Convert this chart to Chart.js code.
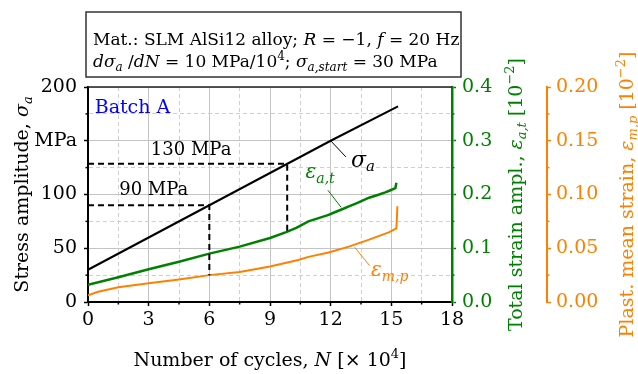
<!DOCTYPE html>
<html>
<head>
<meta charset="utf-8">
<script src="https://cdn.jsdelivr.net/npm/chart.js@4.4.0/dist/chart.umd.min.js"></script>
<style>
  html, body { margin: 0; padding: 0; background: #fff; }
  #wrap { width: 638px; height: 374px; position: relative; }
</style>
</head>
<body>
<div id="wrap"><canvas id="c"></canvas></div>
<script>
// stress amplitude sigma_a [MPa] vs cycles N [x10^4]
var N_SIGMA = [0, 3, 6, 9, 12, 15.33];
var SIGMA   = [30, 60, 90, 120, 150, 182];
// total strain amplitude eps_a,t [10^-2]
var N_EAT = [0, 1.5, 3, 4.5, 6, 7.5, 9, 9.8, 10.3, 10.9, 11.4, 11.9, 12.2, 12.6, 12.9, 13.3, 13.6, 13.9, 14.4, 14.7, 14.9, 15.2, 15.25];
var EAT   = [0.032, 0.046, 0.061, 0.075, 0.090, 0.103, 0.119, 0.130, 0.138, 0.150, 0.156, 0.162, 0.167, 0.173, 0.178, 0.184, 0.189, 0.194, 0.200, 0.204, 0.207, 0.212, 0.222];
// plastic mean strain eps_m,p [10^-2]
var N_EMP = [0, 0.5, 1.5, 3, 4.5, 6, 7.5, 9, 10.4, 10.9, 11.9, 12.9, 13.9, 14.9, 15.25, 15.3];
var EMP   = [0.0063, 0.0095, 0.0137, 0.0174, 0.021, 0.025, 0.028, 0.033, 0.039, 0.042, 0.046, 0.0515, 0.058, 0.065, 0.0685, 0.089];
// guide lines at 130 / 90 MPa
var GUIDE_130 = [[0, 128.5], [9.85, 128.5], [9.85, 65]];
var GUIDE_90  = [[0, 90], [6, 90], [6, 25]];
// leader lines for the curve labels (N, MPa)
var LEAD_SIGMA = [[12, 150], [12.75, 135]];
var LEAD_EAT   = [[11.86, 104], [12.52, 88]];
var LEAD_EMP   = [[13.18, 51], [13.92, 34]];

var Y_MAJOR = [0, 50, 100, 150, 200];
var Y_LABELS = ['0', '50', '100', 'MPa', '200'];

var GREEN = '#008000', ORANGE = '#ff8000', GRID = '#c4c4c4';
var FONT = '"DejaVu Serif", serif';

function pts(xs, ys) { return xs.map(function (x, i) { return { x: x, y: ys[i] }; }); }
function pairs(a) { return a.map(function (p) { return { x: p[0], y: p[1] }; }); }
function isMult(v, step) { var r = v / step; return Math.abs(r - Math.round(r)) < 1e-6; }
var MAJOR = { x: 3, y: 50, yG: 0.1, yO: 0.05 };

// rich text: segments {t, i (italic), sub, sup}
function segFont(s, size) { var sz = (s.sub || s.sup) ? Math.round(size * 0.7) : size; return (s.i ? 'italic ' : '') + sz + 'px ' + FONT; }
function richW(ctx, segs, size) { var w = 0; segs.forEach(function (s) { ctx.font = segFont(s, size); w += ctx.measureText(s.t).width; }); return w; }
function rich(ctx, segs, x, y, size, color, align) {
  var cx = align === 'center' ? x - richW(ctx, segs, size) / 2 : x;
  ctx.fillStyle = color; ctx.textBaseline = 'alphabetic'; ctx.textAlign = 'left';
  segs.forEach(function (s) {
    ctx.font = segFont(s, size);
    var dy = s.sub ? size * 0.22 : (s.sup ? -size * 0.4 : 0);
    ctx.fillText(s.t, cx, y + dy);
    cx += ctx.measureText(s.t).width;
  });
}
function richV(ctx, segs, x, y, size, color) {
  ctx.save(); ctx.translate(x, y); ctx.rotate(-Math.PI / 2);
  rich(ctx, segs, 0, 0, size, color, 'center'); ctx.restore();
}

var TITLE_Y  = [{ t: 'Stress amplitude, ' }, { t: 'σ', i: 1 }, { t: 'a', i: 1, sub: 1 }];
var TITLE_X  = [{ t: 'Number of cycles, ' }, { t: 'N', i: 1 }, { t: ' [× 10' }, { t: '4', sup: 1 }, { t: ']' }];
var TITLE_YG = [{ t: 'Total strain ampl., ' }, { t: 'ε', i: 1 }, { t: 'a,t', i: 1, sub: 1 }, { t: ' [10' }, { t: '−2', sup: 1 }, { t: ']' }];
var TITLE_YO = [{ t: 'Plast. mean strain, ' }, { t: 'ε', i: 1 }, { t: 'm,p', i: 1, sub: 1 }, { t: ' [10' }, { t: '−2', sup: 1 }, { t: ']' }];
var INFO_1 = [{ t: 'Mat.: SLM AlSi12 alloy; ' }, { t: 'R', i: 1 }, { t: ' = −1, ' }, { t: 'f', i: 1 }, { t: ' = 20 Hz' }];
var INFO_2 = [{ t: 'dσ', i: 1 }, { t: 'a', i: 1, sub: 1 }, { t: ' /' }, { t: 'dN', i: 1 }, { t: ' = 10 MPa/10' }, { t: '4', sup: 1 }, { t: '; ' }, { t: 'σ', i: 1 }, { t: 'a,start', i: 1, sub: 1 }, { t: ' = 30 MPa' }];

var extras = {
  id: 'extras',
  afterDraw: function (chart) {
    var ctx = chart.ctx, a = chart.chartArea, sx = chart.scales.x, sy = chart.scales.y;
    var yG = chart.scales.yG, yO = chart.scales.yO;
    ctx.save();
    // top frame line
    ctx.strokeStyle = '#222'; ctx.lineWidth = 1.5;
    ctx.beginPath(); ctx.moveTo(a.left, a.top); ctx.lineTo(a.right, a.top); ctx.stroke();
    // minor ticks
    [['x', '#000'], ['y', '#000'], ['yG', GREEN], ['yO', ORANGE]].forEach(function (p) {
      var s = chart.scales[p[0]];
      ctx.strokeStyle = p[1]; ctx.lineWidth = 1.5;
      s.ticks.forEach(function (t) {
        if (isMult(t.value, MAJOR[p[0]])) return;
        var px = s.getPixelForValue(t.value);
        ctx.beginPath();
        if (p[0] === 'x') { ctx.moveTo(px, s.top); ctx.lineTo(px, s.top + 2.5); }
        else if (p[0] === 'y') { ctx.moveTo(s.right, px); ctx.lineTo(s.right - 2.5, px); }
        else { ctx.moveTo(s.left, px); ctx.lineTo(s.left + 2.5, px); }
        ctx.stroke();
      });
    });
    // axis titles
    var midY = (a.top + a.bottom) / 2;
    richV(ctx, TITLE_Y, sy.left + 28, midY, 19, '#000');
    rich(ctx, TITLE_X, (a.left + a.right) / 2, sx.bottom - 8, 19, '#000', 'center');
    richV(ctx, TITLE_YG, yG.left + 70, midY, 19, GREEN);
    richV(ctx, TITLE_YO, yO.left + 86, midY, 19, ORANGE);
    // info box
    ctx.strokeStyle = '#333'; ctx.lineWidth = 1.5;
    ctx.strokeRect(a.left - 2, a.top - 75, a.right - a.left + 11, 65);
    rich(ctx, INFO_1, a.left + 5, a.top - 42, 17, '#000', 'left');
    rich(ctx, INFO_2, a.left + 5, a.top - 20, 17, '#000', 'left');
    // annotations in data coordinates
    function X(v) { return sx.getPixelForValue(v); }
    function Y(v) { return sy.getPixelForValue(v); }
    rich(ctx, [{ t: 'Batch A' }], X(0.33), Y(175.5), 19, '#0000ff', 'left');
    rich(ctx, [{ t: '130 MPa' }], X(5.1), Y(136.5), 18, '#000', 'center');
    rich(ctx, [{ t: '90 MPa' }], X(3.25), Y(99.3), 18, '#000', 'center');
    rich(ctx, [{ t: 'σ', i: 1 }, { t: 'a', i: 1, sub: 1 }], X(13.0), Y(126), 22, '#000', 'left');
    rich(ctx, [{ t: 'ε', i: 1 }, { t: 'a,t', i: 1, sub: 1 }], X(10.76), Y(115), 20, GREEN, 'left');
    rich(ctx, [{ t: 'ε', i: 1 }, { t: 'm,p', i: 1, sub: 1 }], X(14.0), Y(24), 20, ORANGE, 'left');
    ctx.restore();
  }
};

function lineDs(data, color, width, axis, dash) {
  return { data: data, borderColor: color, borderWidth: width, yAxisID: axis, pointRadius: 0, tension: 0, fill: false, borderDash: dash || [] };
}

var tickFont = { family: FONT, size: 19 };
function gridOpts(key) {
  return {
    color: function (c) { return isMult(c.tick.value, MAJOR[key]) ? GRID : '#cfcfcf'; },
    lineWidth: 1, tickLength: 4, tickWidth: 1.5,
    tickColor: function (c) { return c.tick && isMult(c.tick.value, MAJOR[key]) ? '#000' : 'rgba(0,0,0,0)'; }
  };
}
function borderDash(key) {
  return function (c) { return c.tick && !isMult(c.tick.value, MAJOR[key]) ? [4, 3] : []; };
}

new Chart(document.getElementById('c'), {
  type: 'line',
  data: {
    datasets: [
      lineDs(pairs(GUIDE_130), '#000', 2, 'y', [6, 4]),
      lineDs(pairs(GUIDE_90), '#000', 2, 'y', [6, 4]),
      lineDs(pts(N_EMP, EMP), ORANGE, 2, 'yO'),
      lineDs(pts(N_EAT, EAT), GREEN, 2.5, 'yG'),
      lineDs(pts(N_SIGMA, SIGMA), '#000', 2, 'y'),
      lineDs(pairs(LEAD_SIGMA), '#000', 1, 'y'),
      lineDs(pairs(LEAD_EAT), GREEN, 1, 'y'),
      lineDs(pairs(LEAD_EMP), ORANGE, 1, 'y')
    ]
  },
  options: {
    responsive: true, maintainAspectRatio: false, animation: false,
    layout: { padding: { top: 87, right: 0, bottom: 0, left: 0 } },
    plugins: { legend: { display: false }, tooltip: { enabled: false } },
    scales: {
      x: {
        type: 'linear', min: 0, max: 18,
        afterFit: function (s) { s.height = 72; },
        ticks: { stepSize: 1.5, autoSkip: false, maxRotation: 0, padding: 3, color: '#000', font: tickFont,
          callback: function (v) { return isMult(v, 3) ? String(Math.round(v)) : ''; } },
        grid: gridOpts('x'),
        border: { color: '#000', width: 2, dash: borderDash('x') }
      },
      y: {
        position: 'left', min: 0, max: 200,
        afterFit: function (s) { s.width = 88; },
        ticks: { stepSize: 25, autoSkip: false, padding: 7, color: '#000', font: tickFont,
          callback: function (v) { var i = Y_MAJOR.indexOf(v); return i < 0 ? '' : Y_LABELS[i]; } },
        grid: gridOpts('y'),
        border: { color: '#000', width: 2, dash: borderDash('y') }
      },
      yG: {
        position: 'right', min: 0, max: 0.4,
        afterFit: function (s) { s.width = 95; },
        ticks: { stepSize: 0.05, autoSkip: false, padding: 6, color: GREEN, font: tickFont,
          callback: function (v) { return isMult(v, 0.1) ? v.toFixed(1) : ''; } },
        grid: { drawOnChartArea: false, tickLength: 4, tickWidth: 1.5,
          tickColor: function (c) { return c.tick && isMult(c.tick.value, 0.1) ? GREEN : 'rgba(0,0,0,0)'; } },
        border: { color: GREEN, width: 2.5 }
      },
      yO: {
        position: 'right', min: 0, max: 0.2,
        afterFit: function (s) { s.width = 91; },
        ticks: { stepSize: 0.025, autoSkip: false, padding: 5, color: ORANGE, font: tickFont,
          callback: function (v) { return isMult(v, 0.05) ? v.toFixed(2) : ''; } },
        grid: { drawOnChartArea: false, tickLength: 4, tickWidth: 1.5,
          tickColor: function (c) { return c.tick && isMult(c.tick.value, 0.05) ? ORANGE : 'rgba(0,0,0,0)'; } },
        border: { color: ORANGE, width: 2 }
      }
    }
  },
  plugins: [extras]
});
</script>
</body>
</html>
